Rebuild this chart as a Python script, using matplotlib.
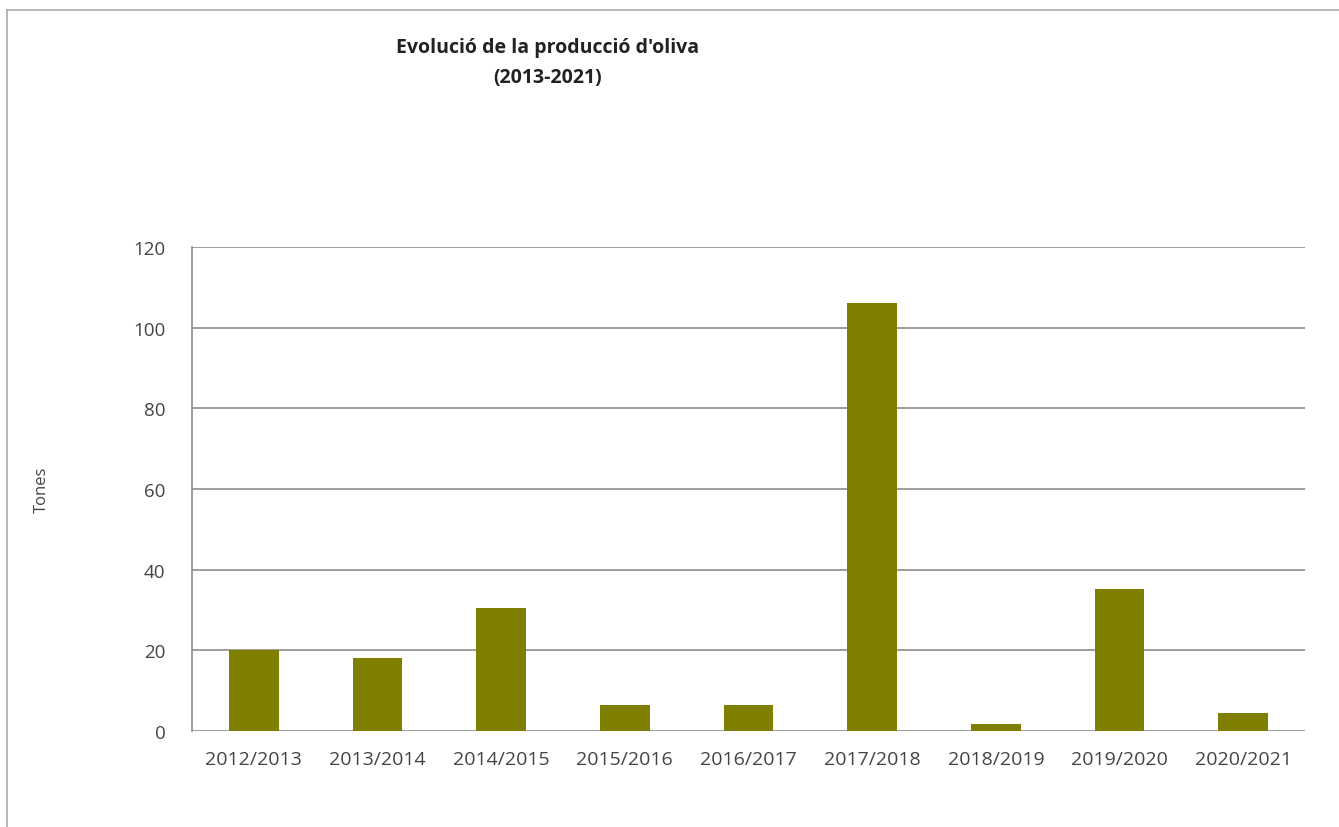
import matplotlib
matplotlib.use('Agg')
import matplotlib.pyplot as plt
import numpy as np

plt.rcParams['font.family'] = ['Open Sans', 'DejaVu Sans']

# Data
campanyes = ['2012/2013', '2013/2014', '2014/2015', '2015/2016', '2016/2017',
             '2017/2018', '2018/2019', '2019/2020', '2020/2021']
tones = [20, 18.1, 30.4, 6.5, 6.5, 106, 1.8, 35.1, 4.5]
y_ticks = [0, 20, 40, 60, 80, 100, 120]

fig = plt.figure(figsize=(13.39, 8.28), dpi=100)
ax = fig.add_axes([192 / 1339, 1 - 732 / 828, (1305 - 192) / 1339, (732 - 248) / 828])

x = np.arange(len(campanyes))
ax.bar(x, tones, width=0.4, color='#808000', zorder=3)

ax.set_xlim(-0.5, len(campanyes) - 0.5)
ax.set_ylim(0, 120)
ax.set_yticks(y_ticks)
ax.set_xticks(x)
ax.set_xticklabels(campanyes)
ax.yaxis.grid(True, color='#8c8c8c', linewidth=1.2, zorder=0)
ax.tick_params(length=0, labelsize=13.5, labelcolor='#444444')
ax.tick_params(axis='x', pad=14, labelsize=14)
ax.tick_params(axis='y', pad=19)

for s in ['top', 'right', 'bottom']:
    ax.spines[s].set_visible(False)
ax.spines['left'].set_color('#8c8c8c')
ax.spines['left'].set_linewidth(1.2)

ax.set_ylabel('Tones', fontsize=12, color='#444444', labelpad=60)

fig.text(548 / 1339, 1 - 63 / 828, "Evolució de la producció d'oliva\n(2013-2021)",
         ha='center', va='center', fontsize=14, fontweight='bold', color='#222222',
         linespacing=1.7)

# outer frame (left and top edges)
fig.add_artist(plt.Line2D([7 / 1339, 7 / 1339], [0, 1 - 11 / 828], color='#aaaaaa', lw=1.2))
fig.add_artist(plt.Line2D([7 / 1339, 1], [1 - 11 / 828, 1 - 11 / 828], color='#aaaaaa', lw=1.2))

fig.savefig('out.png', dpi=100)
